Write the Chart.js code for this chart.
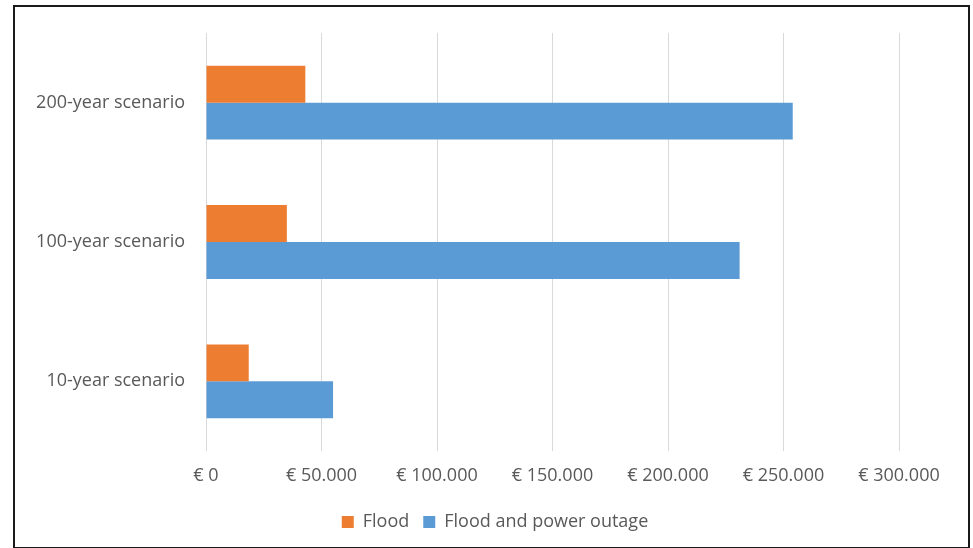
<!DOCTYPE html>
<html>
<head>
<meta charset="utf-8">
<script src="https://cdn.jsdelivr.net/npm/chart.js@4/dist/chart.umd.min.js"></script>
<style>
  html, body { margin: 0; padding: 0; background: #fff; }
  #wrap { position: relative; width: 973px; height: 548px; overflow: hidden; }
  #chart { position: absolute; left: 0; top: 0; }
  #frame {
    position: absolute; left: 13px; top: 5px; width: 953px; height: 540px;
    border: 2px solid #1a1a1a; pointer-events: none;
  }
</style>
</head>
<body>
<div id="wrap">
  <canvas id="chart" width="973" height="548"></canvas>
  <div id="frame"></div>
</div>
<script>
  // scenario labels, top to bottom
  const scenarios = ['200-year scenario', '100-year scenario', '10-year scenario'];
  const floodCost = [43000, 35000, 18500];
  const floodOutageCost = [254000, 231000, 55000];
  const seriesNames = ['Flood', 'Flood and power outage'];
  const xTickMax = 300000;
  const xTickStep = 50000;

  const textGray = '#595959';
  const font = { family: '"Open Sans", sans-serif', size: 18 };

  function euro(v){
    return '€ ' + Number(v).toLocaleString('de-DE');
  }

  // legend sits a bit right of the plot centre, like the original
  const legendShift = {
    id: 'legendShift',
    afterLayout(chart) {
      const lg = chart.legend;
      if (!lg) return;
      lg.left += 38;
      lg.right += 38;
    }
  };

  const ctx = document.getElementById('chart').getContext('2d');
  new Chart(ctx, {
    type: 'bar',
    data: {
      labels: scenarios,
      datasets: [{
        label: seriesNames[0],
        data: floodCost,
        backgroundColor: '#ED7D31',
      }, {
        label: seriesNames[1],
        data: floodOutageCost,
        backgroundColor: '#5B9BD5',
      }]
    },
    options: {
      indexAxis: 'y',
      responsive: false,
      animation: false,
      categoryPercentage: 0.53,
      barPercentage: 1,
      layout: {
        padding: { left: 15, right: 74, top: 33, bottom: 7 }
      },
      plugins: {
        legend: {
          position: 'bottom',
          labels: {
            color: textGray,
            font: font,
            boxWidth: 12,
            boxHeight: 12,
            padding: 14,
          }
        },
        tooltip: { enabled: false },
      },
      scales: {
        x: {
          min: 0,
          max: xTickMax,
          ticks: {
            stepSize: xTickStep,
            color: textGray,
            font: font,
            padding: 14,
            callback: v => euro(v),
          },
          grid: { color: '#d9d9d9', drawTicks: false },
          border: { display: false },
          afterFit: scale => { scale.height = 48; },
        },
        y: {
          ticks: {
            color: textGray,
            font: font,
            padding: 21,
          },
          grid: { display: false, drawTicks: false },
          border: { display: false },
          afterFit: scale => { scale.width = 191; },
        }
      }
    },
    plugins: [legendShift]
  });
</script>
</body>
</html>
